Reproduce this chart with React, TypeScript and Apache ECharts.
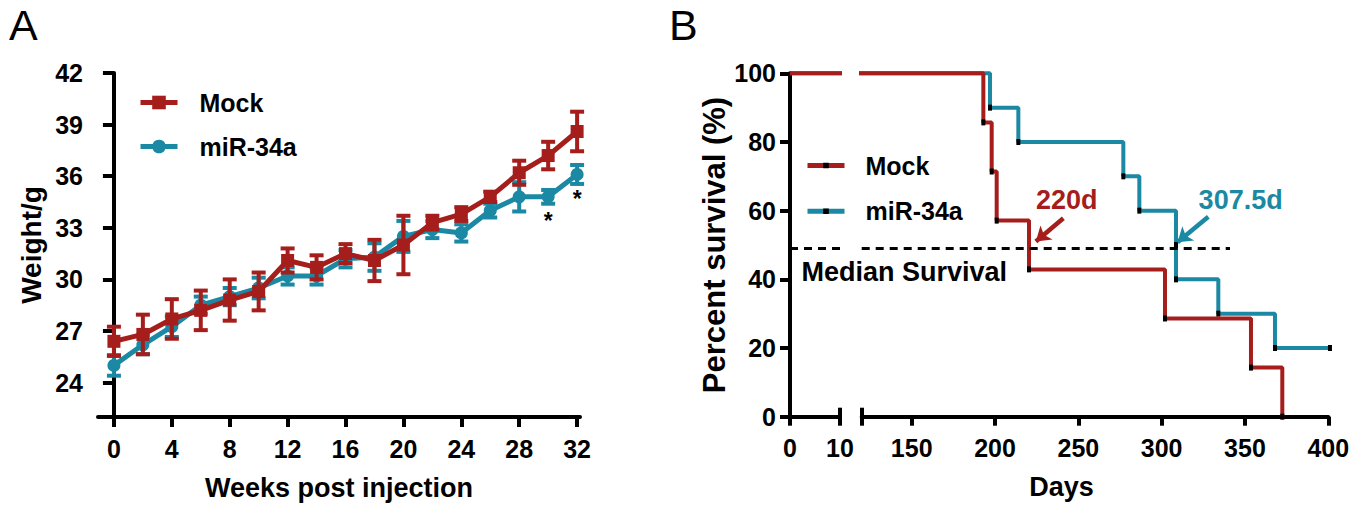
import React, { useEffect, useRef } from 'react';
import * as echarts from 'echarts';

// ---------- Panel A data ----------
const weeks = [0, 2, 4, 6, 8, 10, 12, 14, 16, 18, 20, 22, 24, 26, 28, 30, 32];
const mockWeight = [26.4, 26.8, 27.7, 28.2, 28.8, 29.3, 31.1, 30.7, 31.5, 31.1, 32.0, 33.3, 33.8, 34.8, 36.2, 37.2, 38.6];
const mockSem = [0.85, 1.15, 1.15, 1.15, 1.2, 1.1, 0.7, 0.7, 0.55, 1.2, 1.7, 0.4, 0.4, 0.3, 0.7, 0.8, 1.15];
const mirWeight = [25.0, 26.2, 27.25, 28.5, 29.0, 29.5, 30.2, 30.2, 31.2, 31.3, 32.5, 32.9, 32.7, 34.0, 34.8, 34.8, 36.1];
const mirSem = [0.6, 0.55, 0.6, 0.5, 0.5, 0.6, 0.5, 0.5, 0.5, 0.8, 0.9, 0.5, 0.5, 0.4, 0.85, 0.4, 0.55];
const weekTicks = [0, 4, 8, 12, 16, 20, 24, 28, 32];
const weightTicks = [24, 27, 30, 33, 36, 39, 42];
const sigWeeks = [30, 32];

// ---------- Panel B data ----------
const mockDays = [0, 193, 198, 201, 220.4, 302, 353.6, 372.4];
const mockSurvival = [100, 85.7, 71.4, 57.1, 42.9, 28.6, 14.3, 0];
const mirDays = [0, 197, 214, 277, 286.6, 308.6, 308.6, 334, 368, 401];
const mirSurvival = [100, 90, 80, 70, 60, 50, 40, 30, 20, 20];
const survivalTicks = [0, 20, 40, 60, 80, 100];
const dayTicksLeft = [0, 10];
const dayTicksRight = [150, 200, 250, 300, 350, 400];
const medianLevel = 49;
const medianEndDay = 341;
const mockMedian = '220d';
const mirMedian = '307.5d';

const RED = '#a51e1c';
const BLUE = '#1b89a3';
const FONT = '"Liberation Sans", Arial, Helvetica, sans-serif';

const breakLeftEnd = 10.8;
const breakRightStart = 117;

function errorBars(means: number[], sems: number[], color: string, z: number) {
  return {
    type: 'custom',
    xAxisIndex: 0,
    yAxisIndex: 0,
    z,
    silent: true,
    encode: { x: 0, y: 1 },
    data: weeks.map((w, i) => [w, means[i], sems[i]]),
    renderItem: (params: any, api: any) => {
      const x = api.value(0);
      const m = api.value(1);
      const e = api.value(2);
      const top = api.coord([x, m + e]);
      const bot = api.coord([x, m - e]);
      const half = 7;
      const style = { stroke: color, lineWidth: 4, fill: 'none' };
      return {
        type: 'group',
        children: [
          { type: 'line', shape: { x1: top[0], y1: top[1], x2: bot[0], y2: bot[1] }, style },
          { type: 'line', shape: { x1: top[0] - half, y1: top[1], x2: top[0] + half, y2: top[1] }, style },
          { type: 'line', shape: { x1: bot[0] - half, y1: bot[1], x2: bot[0] + half, y2: bot[1] }, style },
        ],
      };
    },
  };
}

function kmData(days: number[], surv: number[]) {
  return days.map((d, i) =>
    i === 0 ? { value: [breakRightStart, surv[0]], symbol: 'none' } : { value: [d, surv[i]] }
  );
}

const axisLineStyle = { color: '#000', width: 4 };
const tickLabel = { color: '#000', fontSize: 25, fontWeight: 'bold', fontFamily: FONT };
const nameStyle = { color: '#000', fontSize: 27, fontWeight: 'bold', fontFamily: FONT };

export default function App() {
  const ref = useRef<HTMLDivElement>(null);
  useEffect(() => {
    if (!ref.current) return;
    const chart = echarts.init(ref.current, null, { renderer: 'svg' });
    const option: any = {
      animation: false,
      backgroundColor: '#fff',
      title: [
        { text: 'A', left: 4, top: -2, textStyle: { fontSize: 43, fontWeight: 'normal', color: '#000', fontFamily: FONT } },
        { text: 'B', left: 664, top: -2, textStyle: { fontSize: 43, fontWeight: 'normal', color: '#000', fontFamily: FONT } },
      ],
      legend: [
        {
          data: ['Mock', 'miR-34a'],
          orient: 'vertical',
          left: 138,
          top: 90,
          padding: 0,
          itemWidth: 37,
          itemHeight: 17,
          itemGap: 19,
          selectedMode: false,
          lineStyle: { width: 5 },
          textStyle: { color: '#000', fontSize: 25, fontWeight: 'bold', fontFamily: FONT, padding: [0, 0, 0, 17] },
        },
        {
          data: ['B:Mock', 'B:miR-34a'],
          formatter: (n: string) => n.slice(2),
          orient: 'vertical',
          left: 805,
          top: 153,
          padding: 0,
          itemWidth: 37,
          itemHeight: 7,
          itemGap: 20.7,
          selectedMode: false,
          lineStyle: { width: 5 },
          textStyle: { color: '#000', fontSize: 25, fontWeight: 'bold', fontFamily: FONT, padding: [0, 0, 0, 16] },
        },
      ],
      grid: [
        { left: 98, top: 73, width: 482, height: 344 },
        { left: 790, top: 73.3, width: 50, height: 343.4 },
        { left: 861.7, top: 73.3, width: 466.6, height: 343.4 },
      ],
      xAxis: [
        {
          type: 'value', gridIndex: 0, min: -1.1, max: 32.2,
          axisLine: { lineStyle: axisLineStyle },
          axisTick: { customValues: weekTicks, length: 10, lineStyle: axisLineStyle },
          axisLabel: { customValues: weekTicks, margin: 19, ...tickLabel },
          splitLine: { show: false },
          name: 'Weeks post injection', nameLocation: 'middle', nameGap: 57, nameTextStyle: nameStyle,
        },
        {
          type: 'value', gridIndex: 1, min: 0, max: 10, interval: 10, position: 'bottom',
          axisLine: { lineStyle: axisLineStyle },
          axisTick: { customValues: dayTicksLeft, length: 9, lineStyle: axisLineStyle },
          axisLabel: { customValues: dayTicksLeft, margin: 19, ...tickLabel },
          splitLine: { show: false },
        },
        {
          type: 'value', gridIndex: 2, min: 120, max: 400, position: 'bottom',
          axisLine: { lineStyle: axisLineStyle },
          axisTick: { customValues: [120, ...dayTicksRight], length: 9, lineStyle: axisLineStyle },
          axisLabel: { customValues: dayTicksRight, margin: 19, ...tickLabel },
          splitLine: { show: false },
          name: 'Days', nameLocation: 'middle', nameGap: 57,
          nameTextStyle: { ...nameStyle, padding: [0, 67, 0, 0] },
        },
        {
          type: 'value', gridIndex: 1, min: 0, max: 10, position: 'bottom', offset: 0,
          axisLine: { show: false },
          axisTick: { inside: true, customValues: [10], length: 9, lineStyle: axisLineStyle },
          axisLabel: { show: false },
          splitLine: { show: false },
        },
        {
          type: 'value', gridIndex: 2, min: 120, max: 400, position: 'bottom', offset: 0,
          axisLine: { show: false },
          axisTick: { inside: true, customValues: [120], length: 9, lineStyle: axisLineStyle },
          axisLabel: { show: false },
          splitLine: { show: false },
        },
      ],
      yAxis: [
        {
          type: 'value', gridIndex: 0, min: 22, max: 42,
          axisLine: { show: true, lineStyle: axisLineStyle },
          axisTick: { show: true, customValues: weightTicks, length: 11, lineStyle: axisLineStyle },
          axisLabel: { customValues: weightTicks, margin: 15, ...tickLabel },
          splitLine: { show: false },
          name: 'Weight/g', nameLocation: 'middle', nameGap: 53,
          nameTextStyle: { ...nameStyle, fontSize: 28 },
        },
        {
          type: 'value', gridIndex: 1, min: 0, max: 100,
          axisLine: { show: true, lineStyle: axisLineStyle },
          axisTick: { show: true, customValues: survivalTicks, length: 10, lineStyle: axisLineStyle },
          axisLabel: { customValues: survivalTicks, margin: 14, ...tickLabel },
          splitLine: { show: false },
          name: 'Percent survival (%)', nameLocation: 'middle', nameGap: 57,
          nameTextStyle: { ...nameStyle, fontSize: 31 },
        },
        { type: 'value', gridIndex: 2, min: 0, max: 100, show: false, splitLine: { show: false } },
      ],
      series: [
        // ---------- Panel A ----------
        errorBars(mirWeight, mirSem, BLUE, 2),
        {
          name: 'miR-34a', type: 'line', xAxisIndex: 0, yAxisIndex: 0, z: 3,
          data: weeks.map((w, i) => [w, mirWeight[i]]),
          symbol: 'circle', symbolSize: 13,
          itemStyle: { color: BLUE }, lineStyle: { color: BLUE, width: 5 },
        },
        errorBars(mockWeight, mockSem, RED, 4),
        {
          name: 'Mock', type: 'line', xAxisIndex: 0, yAxisIndex: 0, z: 5,
          data: weeks.map((w, i) => [w, mockWeight[i]]),
          symbol: 'rect', symbolSize: 13,
          itemStyle: { color: RED }, lineStyle: { color: RED, width: 5 },
        },
        {
          type: 'scatter', xAxisIndex: 0, yAxisIndex: 0, z: 6, silent: true,
          data: sigWeeks.map((w) => [w, mirWeight[weeks.indexOf(w)]]),
          symbolSize: 0, itemStyle: { opacity: 1 },
          label: { show: true, formatter: '*', position: 'bottom', distance: 13, color: '#000', opacity: 1, fontSize: 23, fontWeight: 'bold', fontFamily: FONT },
        },
        // ---------- Panel B, left of the axis break ----------
        {
          type: 'line', xAxisIndex: 1, yAxisIndex: 1, clip: false, showSymbol: false, silent: true,
          data: [[0, mirSurvival[0]], [breakLeftEnd, mirSurvival[0]]],
          lineStyle: { color: BLUE, width: 4 },
        },
        {
          type: 'line', xAxisIndex: 1, yAxisIndex: 1, clip: false, showSymbol: false, silent: true,
          data: [[0, mockSurvival[0]], [breakLeftEnd, mockSurvival[0]]],
          lineStyle: { color: RED, width: 4 },
        },
        {
          type: 'line', xAxisIndex: 1, yAxisIndex: 1, clip: false, showSymbol: false, silent: true,
          data: [[0, medianLevel], [14.3, medianLevel]],
          lineStyle: { color: '#000', width: 3, type: [8, 6] },
        },
        {
          type: 'scatter', xAxisIndex: 1, yAxisIndex: 1, silent: true, symbolSize: 0, itemStyle: { opacity: 1 },
          data: [[2.3, 42]],
          label: { show: true, formatter: 'Median Survival', position: 'right', distance: 0, opacity: 1, ...nameStyle },
        },
        // ---------- Panel B, right of the axis break ----------
        {
          name: 'B:miR-34a', type: 'line', xAxisIndex: 2, yAxisIndex: 2, clip: false, step: 'end',
          data: kmData(mirDays, mirSurvival),
          symbol: 'rect', symbolSize: [4, 6],
          itemStyle: { color: '#000' }, lineStyle: { color: BLUE, width: 4 }, z: 3,
        },
        {
          name: 'B:Mock', type: 'line', xAxisIndex: 2, yAxisIndex: 2, clip: false, step: 'end',
          data: kmData(mockDays, mockSurvival),
          symbol: 'rect', symbolSize: [4, 6],
          itemStyle: { color: '#000' }, lineStyle: { color: RED, width: 4 }, z: 4,
        },
        {
          type: 'line', xAxisIndex: 2, yAxisIndex: 2, clip: false, showSymbol: false, silent: true, z: 5,
          data: [[120, medianLevel], [medianEndDay, medianLevel]],
          lineStyle: { color: '#000', width: 3, type: [8, 6] },
        },
        {
          type: 'lines', coordinateSystem: 'cartesian2d', xAxisIndex: 2, yAxisIndex: 2, silent: true, z: 6,
          symbol: ['none', 'arrow'], symbolSize: 14,
          lineStyle: { opacity: 1, width: 4.5 },
          data: [
            { coords: [[241, 57.8], [224.5, 51]], lineStyle: { color: RED, width: 4.5, opacity: 1 } },
            { coords: [[328, 58.2], [309.5, 50.8]], lineStyle: { color: BLUE, width: 4.5, opacity: 1 } },
          ],
        },
        {
          type: 'scatter', xAxisIndex: 2, yAxisIndex: 2, silent: true, symbolSize: 0, z: 6, itemStyle: { opacity: 1 },
          data: [
            { value: [243, 63], label: { formatter: mockMedian, color: RED } },
            { value: [347.4, 63.2], label: { formatter: mirMedian, color: BLUE } },
          ],
          label: { show: true, position: 'inside', opacity: 1, fontSize: 27, fontWeight: 'bold', fontFamily: FONT },
        },
      ],
    };
    chart.setOption(option);
    return () => chart.dispose();
  }, []);
  return <div ref={ref} style={{ position: 'absolute', left: 0, top: 0, width: 1361, height: 512 }} />;
}
